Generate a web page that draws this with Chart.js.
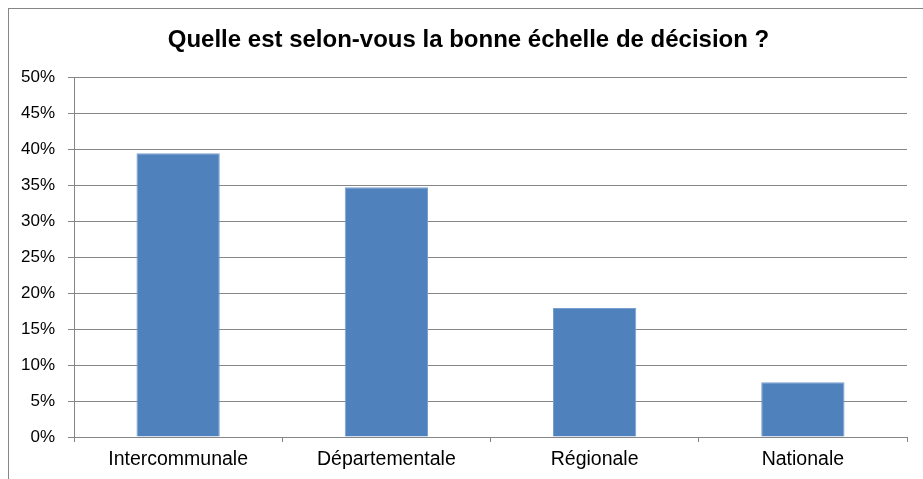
<!DOCTYPE html>
<html>
<head>
<meta charset="utf-8">
<script src="https://cdn.jsdelivr.net/npm/chart.js@4/dist/chart.umd.min.js"></script>
<style>
  html, body { margin: 0; padding: 0; background: #fff; overflow: hidden; }
  #frame { position: absolute; left: 8px; top: 8px; width: 1200px; height: 1200px;
           border-left: 1px solid #868686; border-top: 1px solid #868686; }
  #wrap { position: absolute; left: 0; top: 0; width: 923px; height: 479px; }
</style>
</head>
<body>
<div id="frame"></div>
<div id="wrap"><canvas id="c" width="923" height="479"></canvas></div>
<script>
const titleText = "Quelle est selon-vous la bonne échelle de décision ?";
const categories = ["Intercommunale", "Départementale", "Régionale", "Nationale"];
const values = [39.4, 34.7, 17.9, 7.6];
const yMin = 0, yMax = 50, yStep = 5;

const FONT = "'Liberation Sans', Arial, sans-serif";
const GRID = "#868686";

const titleDraw = {
  id: 'titleDraw',
  afterDraw(chart) {
    const ctx = chart.ctx;
    ctx.save();
    ctx.font = "bold 24px " + FONT;
    ctx.fillStyle = '#000';
    ctx.textAlign = 'center';
    ctx.textBaseline = 'alphabetic';
    ctx.fillText(titleText, 468.5, 46.5);
    ctx.restore();
  }
};

new Chart(document.getElementById('c'), {
  type: 'bar',
  data: {
    labels: categories,
    datasets: [{
      data: values,
      backgroundColor: '#4F81BD',
      borderColor: '#7A9FCF',
      borderWidth: 1,
      categoryPercentage: 0.4,
      barPercentage: 1.0
    }]
  },
  options: {
    responsive: false,
    animation: false,
    devicePixelRatio: 1,
    layout: { padding: { left: 0, right: 16, top: 0, bottom: 0 } },
    plugins: {
      legend: { display: false },
      tooltip: { enabled: false },
      title: {
        display: true,
        text: ' ',
        color: 'rgba(0,0,0,0)',
        font: { family: FONT, size: 20, weight: 'bold' },
        padding: { top: 28, bottom: 25 }
      }
    },
    scales: {
      x: {
        afterFit: s => { s.height = 42; },
        grid: { display: true, drawOnChartArea: false, drawTicks: true, tickLength: 5, color: GRID, offset: true },
        border: { display: true, color: GRID, width: 1 },
        ticks: { color: '#000', font: { family: FONT, size: 19.5 }, padding: 6, maxRotation: 0 }
      },
      y: {
        min: yMin, max: yMax,
        afterFit: s => { s.width = 74; },
        grid: { display: true, drawOnChartArea: true, drawTicks: true, tickLength: 6, color: GRID },
        border: { display: true, color: GRID, width: 1 },
        ticks: { stepSize: yStep, color: '#000', font: { family: FONT, size: 17 }, padding: 13,
                 callback: v => v + '%' }
      }
    }
  },
  plugins: [titleDraw]
});
</script>
</body>
</html>
